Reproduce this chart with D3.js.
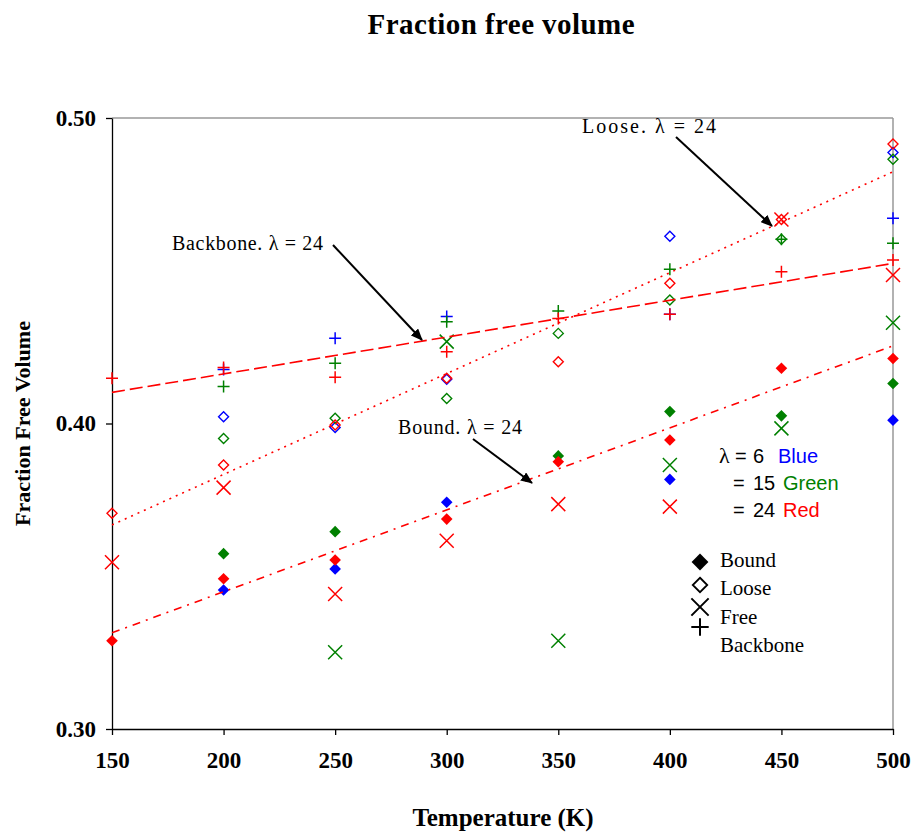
<!DOCTYPE html>
<html lang="en">
<head>
<meta charset="utf-8">
<title>Fraction free volume</title>
<script src="https://cdn.jsdelivr.net/npm/d3@7/dist/d3.min.js"></script>
<style>
    body { margin: 0; background: #fff; }
    svg text { font-family: "Times New Roman", "Liberation Serif", serif; fill: #000; }
    svg text.sans, svg tspan.sans { font-family: Arial, "Liberation Sans", sans-serif; }
    .axis path, .axis line { stroke: #000; stroke-width: 1.3px; }
    .axis text { font-size: 23px; font-weight: bold; }
</style>
</head>
<body>
<div class="chart"></div>
<script>
// temperatures (K)
var temps = [150, 200, 250, 300, 350, 400, 450, 500];
var yTicks = [0.30, 0.40, 0.50];

// Bound (filled diamond)
var bound6  = [null, 0.3455, 0.3524, 0.3742, null, 0.3817, null, 0.4011];
var bound15 = [null, 0.3574, 0.3646, null, 0.3894, 0.4039, 0.4025, 0.4131];
var bound24 = [0.3289, 0.3492, 0.3553, 0.3687, 0.3875, 0.3946, 0.4181, 0.4213];
// Loose (open diamond)
var loose6  = [null, 0.4022, 0.3987, 0.4145, null, 0.4613, null, 0.4887];
var loose15 = [null, 0.3951, 0.4017, 0.4082, 0.4295, 0.4404, 0.4603, 0.4865];
var loose24 = [0.3706, 0.3864, 0.3995, 0.4148, 0.4202, 0.4459, 0.4668, 0.4915];
// Free (cross)
var free15 = [null, null, 0.3251, 0.4268, 0.3289, 0.3864, 0.3984, 0.4330];
var free24 = [0.3546, 0.3790, 0.3442, 0.3616, 0.3736, 0.3728, 0.4668, 0.4486];
// Backbone (plus)
var backbone6  = [null, 0.4177, 0.4279, 0.4350, null, 0.4358, null, 0.4672];
var backbone15 = [null, 0.4121, 0.4197, 0.4333, 0.4368, 0.4505, 0.4603, 0.4590];
var backbone24 = [0.4148, 0.4183, 0.4151, 0.4235, 0.4344, 0.4358, 0.4497, 0.4535];

// trend lines for lambda = 24, values at 150 K and 500 K
var trendT = [150, 500];
var trendBackbone = [0.4102, 0.4524];
var trendLoose    = [0.3668, 0.4824];
var trendBound    = [0.3315, 0.4254];

var blue = "#0000ff", green = "#008000", red = "#ff0000";

var series = [
    {shape: "bound", color: blue,  values: bound6},
    {shape: "bound", color: green, values: bound15},
    {shape: "bound", color: red,   values: bound24},
    {shape: "loose", color: blue,  values: loose6},
    {shape: "loose", color: green, values: loose15},
    {shape: "loose", color: red,   values: loose24},
    {shape: "free",  color: green, values: free15},
    {shape: "free",  color: red,   values: free24},
    {shape: "backbone", color: blue,  values: backbone6},
    {shape: "backbone", color: green, values: backbone15},
    {shape: "backbone", color: red,   values: backbone24}
];

var trends = [
    {values: trendBackbone, dash: "13,5"},
    {values: trendLoose,    dash: "2,5"},
    {values: trendBound,    dash: "8,6,2,6"}
];

var width = 913, height = 832,
    margin = {top: 118, right: 20, bottom: 103, left: 112},
    w = width - margin.left - margin.right,
    h = height - margin.top - margin.bottom;

var x = d3.scaleLinear().domain([150, 500]).range([0, w]);
var y = d3.scaleLinear().domain([0.30, 0.50]).range([h, 0]);

var svg = d3.select("div.chart").append("svg")
    .attr("width", width)
    .attr("height", height);

var defs = svg.append("defs");
defs.append("marker")
    .attr("id", "arrow")
    .attr("markerUnits", "userSpaceOnUse")
    .attr("viewBox", "0 0 12 10")
    .attr("refX", 11).attr("refY", 5)
    .attr("markerWidth", 12).attr("markerHeight", 10)
    .attr("orient", "auto")
  .append("path")
    .attr("d", "M0,0L12,5L0,10Z")
    .attr("fill", "#000");

var g = svg.append("g")
    .attr("transform", "translate(" + margin.left + "," + margin.top + ")");

// frame: grey top/right edges
g.append("line").attr("x1", 0).attr("x2", w).attr("y1", 0).attr("y2", 0)
    .attr("stroke", "#999").attr("stroke-width", 1.5);
g.append("line").attr("x1", w).attr("x2", w).attr("y1", 0).attr("y2", h)
    .attr("stroke", "#999").attr("stroke-width", 1.5);

g.append("g").attr("class", "axis")
    .attr("transform", "translate(0," + h + ")")
    .call(d3.axisBottom(x).tickValues(temps).tickSize(6).tickSizeOuter(0).tickPadding(17));

g.append("g").attr("class", "axis")
    .call(d3.axisLeft(y).tickValues(yTicks).tickFormat(d3.format(".2f")).tickSize(6).tickSizeOuter(0).tickPadding(10));

// marker shapes
function diamond(r) { return "M0," + (-r) + "L" + r + ",0L0," + r + "L" + (-r) + ",0Z"; }
function cross(r) { return "M" + (-r) + "," + (-r) + "L" + r + "," + r + "M" + r + "," + (-r) + "L" + (-r) + "," + r; }
function plus(r) { return "M" + (-r) + ",0L" + r + ",0M0," + (-r) + "L0," + r; }

function drawShape(sel, shape, color, big) {
    var k = big ? 1.45 : 1;
    if (shape === "bound") {
        sel.append("path").attr("d", diamond(5.8 * k)).attr("fill", color);
    } else if (shape === "loose") {
        sel.append("path").attr("d", diamond(5 * k)).attr("fill", "none")
            .attr("stroke", color).attr("stroke-width", big ? 1.8 : 1.4);
    } else if (shape === "free") {
        sel.append("path").attr("d", cross(7 * k * (big ? 0.85 : 1))).attr("fill", "none")
            .attr("stroke", color).attr("stroke-width", big ? 2 : 1.5);
    } else {
        sel.append("path").attr("d", plus(6 * k)).attr("fill", "none")
            .attr("stroke", color).attr("stroke-width", big ? 2 : 1.5);
    }
}

// points
series.forEach(function(s) {
    var pts = temps.map(function(t, i) { return {t: t, v: s.values[i]}; })
        .filter(function(d) { return d.v != null; });
    g.append("g").selectAll("g")
        .data(pts)
      .enter().append("g")
        .attr("transform", function(d) { return "translate(" + x(d.t) + "," + y(d.v) + ")"; })
        .each(function() { drawShape(d3.select(this), s.shape, s.color, false); });
});

// trend lines
var line = d3.line()
    .x(function(d) { return x(d[0]); })
    .y(function(d) { return y(d[1]); });

trends.forEach(function(tr) {
    g.append("path")
        .datum(trendT.map(function(t, i) { return [t, tr.values[i]]; }))
        .attr("d", line)
        .attr("fill", "none")
        .attr("stroke", red)
        .attr("stroke-width", 1.6)
        .attr("stroke-dasharray", tr.dash);
});

// annotations
var notes = [
    {text: "Backbone.", x: 172, y: 250, len: 151, from: [333, 245], to: [422, 340]},
    {text: "Loose.", x: 582, y: 133, len: 134, from: [676, 137], to: [772, 226]},
    {text: "Bound.", x: 398, y: 434, len: 124, from: [473, 439], to: [532, 483]}
];
notes.forEach(function(n) {
    svg.append("text").attr("x", n.x).attr("y", n.y)
        .attr("textLength", n.len).attr("lengthAdjust", "spacing")
        .style("font-size", "20px")
        .text(n.text + " \u03bb = 24");
    svg.append("line")
        .attr("x1", n.from[0]).attr("y1", n.from[1])
        .attr("x2", n.to[0]).attr("y2", n.to[1])
        .attr("stroke", "#000").attr("stroke-width", 2)
        .attr("marker-end", "url(#arrow)");
});

// lambda colour key
var lamKey = [
    {lam: "\u03bb", val: "6", name: "Blue", color: blue, y: 463},
    {lam: "", val: "15", name: "Green", color: green, y: 490},
    {lam: "", val: "24", name: "Red", color: red, y: 517}
];
lamKey.forEach(function(k) {
    if (k.lam) svg.append("text").attr("x", 719).attr("y", k.y).style("font-size", "22px").text(k.lam);
    svg.append("text").attr("class", "sans").attr("x", k.lam ? 735 : 733).attr("y", k.y).style("font-size", "20px").text("=");
    svg.append("text").attr("class", "sans").attr("x", 753).attr("y", k.y).style("font-size", "20px").text(k.val);
    svg.append("text").attr("class", "sans").attr("x", k.lam ? 778 : 783).attr("y", k.y)
        .style("font-size", "20px").style("fill", k.color).text(k.name);
});

// shape key
var shapeKey = [
    {shape: "bound", label: "Bound", sy: 562, ty: 567},
    {shape: "loose", label: "Loose", sy: 585, ty: 595},
    {shape: "free", label: "Free", sy: 607, ty: 624},
    {shape: "backbone", label: "Backbone", sy: 627, ty: 652}
];
shapeKey.forEach(function(k) {
    var s = svg.append("g").attr("transform", "translate(700," + k.sy + ")");
    drawShape(s, k.shape, "#000", true);
    svg.append("text").attr("x", 720).attr("y", k.ty).style("font-size", "21px").text(k.label);
});

// titles
svg.append("text")
    .attr("x", 501).attr("y", 34)
    .attr("text-anchor", "middle")
    .attr("textLength", 267).attr("lengthAdjust", "spacing")
    .style("font-size", "29px").style("font-weight", "bold")
    .text("Fraction free volume");

svg.append("text")
    .attr("x", 503).attr("y", 826)
    .attr("text-anchor", "middle")
    .style("font-size", "25px").style("font-weight", "bold")
    .text("Temperature (K)");

svg.append("text")
    .attr("transform", "translate(30," + (margin.top + h / 2) + ")rotate(-90)")
    .attr("text-anchor", "middle")
    .style("font-size", "22px").style("font-weight", "bold")
    .text("Fraction Free Volume");
</script>
</body>
</html>
